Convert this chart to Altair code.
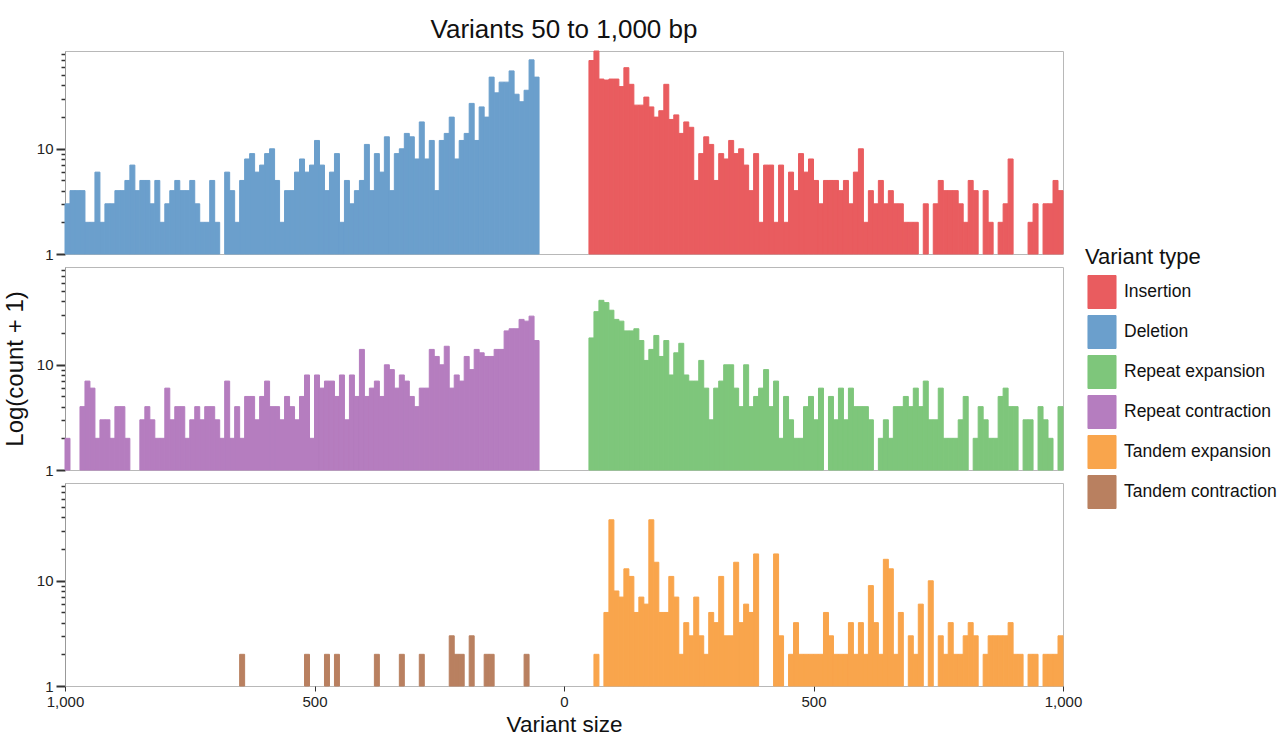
import altair as alt
import pandas as pd

FONT = "Liberation Sans"

types = ["Insertion", "Deletion", "Repeat expansion", "Repeat contraction",
         "Tandem expansion", "Tandem contraction"]
colors = ["#E95C5F", "#6B9FCC", "#7EC67B", "#B57DBF", "#F9A54C", "#B98060"]

# bin starts (10 bp bins); negative = contraction/deletion side
neg_starts = list(range(-1000, -50, 10))   # 95 bins, -1000 .. -60
pos_starts = list(range(50, 1000, 10))     # 95 bins,  50 .. 990

# values are count + 1
deletion = [3, 4, 4, 4, 2, 2, 6, 2, 3, 3, 4, 4, 5, 7, 4, 5, 5, 3, 5, 2,
            3, 4, 5, 4, 4, 5, 3, 2, 2, 5, 2, 1, 6, 4, 2, 5, 8, 9, 6, 7,
            9, 10, 5, 2, 4, 4, 6, 8, 6, 7, 12, 7, 4, 6, 9, 2, 5, 3, 4, 5,
            11, 4, 9, 6, 13, 4, 9, 10, 14, 13, 8, 18, 8, 12, 4, 12, 14, 20, 8, 12,
            14, 27, 12, 25, 20, 48, 34, 43, 43, 55, 33, 28, 36, 70, 48]
insertion = [69, 85, 46, 45, 46, 46, 39, 59, 41, 26, 26, 31, 25, 20, 23, 41, 19, 21, 14, 18,
             16, 5, 9, 13, 11, 5, 9, 8, 12, 9, 10, 7, 4, 9, 2, 7, 7, 2, 7, 2,
             6, 4, 9, 6, 8, 5, 3, 5, 5, 5, 4, 5, 3, 6, 10, 2, 4, 3, 5, 3,
             4, 3, 3, 2, 2, 2, 1, 3, 1, 3, 5, 4, 4, 4, 3, 2, 5, 4, 1, 4,
             2, 1, 2, 3, 8, 1, 1, 1, 2, 3, 1, 3, 3, 5, 4]
repeat_contraction = [2, 1, 1, 4, 7, 6, 2, 3, 3, 2, 4, 4, 2, 1, 1, 3, 4, 3, 2, 2,
                      6, 3, 4, 4, 2, 3, 4, 3, 4, 4, 3, 2, 7, 2, 4, 2, 5, 5, 3, 5,
                      7, 4, 4, 3, 5, 4, 3, 5, 8, 2, 8, 6, 7, 7, 5, 8, 3, 8, 5, 14,
                      5, 6, 7, 5, 10, 9, 6, 8, 7, 5, 4, 6, 6, 14, 12, 10, 15, 6, 8, 7,
                      12, 9, 14, 13, 12, 12, 14, 14, 21, 22, 22, 27, 26, 29, 17]
repeat_expansion = [18, 32, 41, 39, 33, 27, 26, 21, 21, 22, 17, 11, 14, 19, 12, 17, 8, 13, 16, 8,
                    7, 7, 11, 6, 3, 6, 7, 10, 10, 6, 4, 10, 4, 5, 6, 9, 4, 7, 2, 5,
                    3, 2, 2, 4, 5, 3, 6, 1, 5, 3, 6, 3, 6, 4, 4, 4, 3, 1, 2, 3,
                    2, 4, 4, 5, 4, 6, 4, 7, 3, 3, 6, 2, 2, 2, 3, 5, 1, 2, 4, 3,
                    2, 2, 5, 6, 4, 4, 1, 3, 3, 1, 4, 3, 2, 1, 4]
tandem_contraction = [1, 1, 1, 1, 1, 1, 1, 1, 1, 1, 1, 1, 1, 1, 1, 1, 1, 1, 1, 1,
                      1, 1, 1, 1, 1, 1, 1, 1, 1, 1, 1, 1, 1, 1, 1, 2, 1, 1, 1, 1,
                      1, 1, 1, 1, 1, 1, 1, 1, 2, 1, 1, 1, 2, 1, 2, 1, 1, 1, 1, 1,
                      1, 1, 2, 1, 1, 1, 1, 2, 1, 1, 1, 2, 1, 1, 1, 1, 1, 3, 2, 2,
                      1, 3, 1, 1, 2, 2, 1, 1, 1, 1, 1, 1, 2, 1, 1]
tandem_expansion = [1, 2, 1, 5, 38, 8, 7, 13, 11, 5, 7, 6, 38, 15, 5, 5, 11, 7, 2, 4,
                    3, 7, 3, 2, 5, 4, 11, 3, 3, 15, 4, 6, 5, 18, 1, 1, 1, 18, 3, 1,
                    2, 4, 2, 2, 2, 2, 2, 5, 3, 2, 2, 2, 4, 2, 4, 2, 9, 4, 2, 16,
                    13, 2, 5, 1, 3, 2, 6, 1, 10, 1, 3, 2, 4, 2, 2, 3, 4, 3, 1, 2,
                    3, 3, 3, 3, 4, 2, 2, 1, 2, 2, 1, 2, 2, 2, 3]

x_ticks = [-1000, -500, 0, 500, 1000]
y_ticks = [1, 2, 3, 4, 5, 6, 7, 8, 9, 10, 20, 30, 40, 50, 60, 70, 80]
BIN = 10


def frame(name, starts, values):
    return pd.DataFrame({
        "type": name,
        "start": starts,
        "end": [s + BIN for s in starts],
        "value": values,
        "base": 1,
    })


panels = [
    pd.concat([frame("Deletion", neg_starts, deletion),
               frame("Insertion", pos_starts, insertion)]),
    pd.concat([frame("Repeat contraction", neg_starts, repeat_contraction),
               frame("Repeat expansion", pos_starts, repeat_expansion)]),
    pd.concat([frame("Tandem contraction", neg_starts, tandem_contraction),
               frame("Tandem expansion", pos_starts, tandem_expansion)]),
]

W, H = 998, 203
MAJOR = "datum.value == 1 || datum.value == 10"


def make_panel(df, idx):
    df = df[df["value"] > 1]
    show_x = idx == 2
    x_axis = alt.Axis(
        values=x_ticks, labelExpr="format(abs(datum.value), ',')",
        title="Variant size", titleFontSize=22.5, titleFontWeight="normal",
        titleColor="#111", titlePadding=4, labelFontSize=15, labelColor="#222",
        labelPadding=3, tickSize=5, tickColor="#333", domain=False, grid=False,
        labelFlush=False,
    ) if show_x else None
    y_axis = alt.Axis(
        values=y_ticks,
        labelExpr=MAJOR + " ? datum.value : ''",
        title="Log(count + 1)", titleFontSize=24, titleFontWeight="normal",
        titleColor="#111" if idx == 1 else "transparent", titlePadding=8,
        labelFontSize=15, labelColor="#222", labelPadding=3,
        tickSize={"condition": {"test": MAJOR, "value": 9}, "value": 4},
        tickWidth={"condition": {"test": MAJOR, "value": 2}, "value": 1.5},
        tickColor="#333", domainColor="#999", grid=False, minExtent=30,
    )
    legend = alt.Legend(
        title="Variant type", orient="none", legendX=W + 22, legendY=-20,
        titleFontSize=22, titleFontWeight="normal", titleColor="#111",
        labelFontSize=17.5, labelColor="#111", labelOffset=5,
        symbolType="M-0.85,-1H0.85V1H-0.85Z", symbolSize=1089,
        symbolOpacity=1, symbolStrokeColor="#e8e8e8", symbolStrokeWidth=1,
        rowPadding=2, titlePadding=6,
    ) if idx == 1 else None
    cscale = alt.Scale(domain=types, range=colors)
    ch = alt.Chart(df).mark_rect(strokeWidth=1).encode(
        x=alt.X("start:Q", scale=alt.Scale(domain=[-1000, 1000], nice=False, zero=False), axis=x_axis),
        x2="end:Q",
        y=alt.Y("value:Q", scale=alt.Scale(type="log", domain=[1, 85], nice=False, clamp=True), axis=y_axis),
        y2="base:Q",
        color=alt.Color("type:N", scale=cscale, legend=legend),
        stroke=alt.Stroke("type:N", scale=cscale, legend=None),
    )
    props = dict(width=W, height=H)
    if idx == 0:
        props["title"] = alt.TitleParams("Variants 50 to 1,000 bp", fontSize=26,
                                         fontWeight="normal", color="#111",
                                         anchor="middle", frame="group", offset=8)
    return ch.properties(**props)


chart = alt.vconcat(*[make_panel(p, i) for i, p in enumerate(panels)],
                    spacing=13, bounds="flush").resolve_scale(
    color="independent", stroke="independent").resolve_legend(
    color="independent", stroke="independent").properties(
    padding={"left": 2, "top": 16, "right": 2, "bottom": 0}
).configure(font=FONT).configure_view(stroke="#b8b8b8", strokeWidth=1)

chart.save("out.html", embed_options={"renderer": "svg", "actions": False})
